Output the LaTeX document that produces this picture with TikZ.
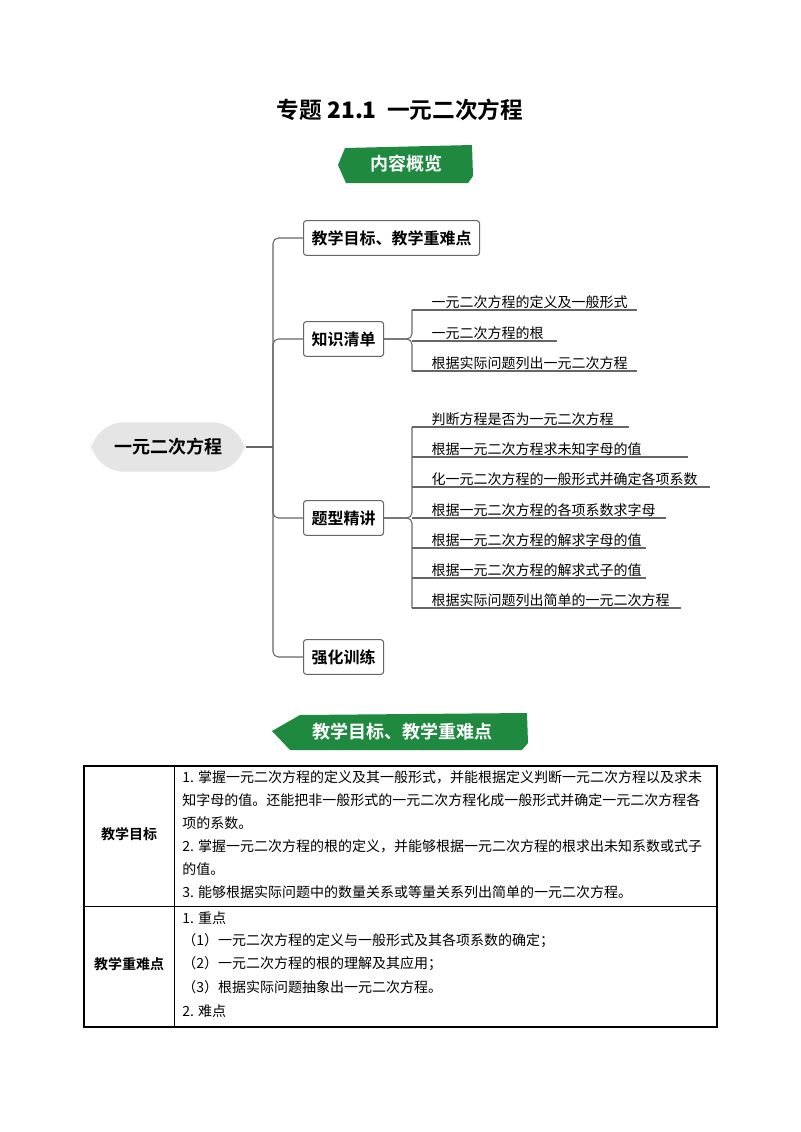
\documentclass[tikz,border=0pt]{standalone}
\usepackage{fontspec}
\setmainfont{Liberation Serif}
\newfontfamily\cjk{Noto Sans CJK SC}
\newfontfamily\cjkb{Noto Sans CJK SC Bold}
\usetikzlibrary{positioning}

\definecolor{bannergreen}{HTML}{1F8A3F}

\tikzset{
  banner/.style={fill=bannergreen, draw=none},
  topic/.style={draw=black!60, rounded corners=2pt, thick, fill=white, font=\cjkb\fontsize{12}{14}\selectfont, inner sep=6pt, minimum height=26pt},
  leaf/.style={anchor=south west, inner sep=1pt, font=\cjk\fontsize{10.5}{12}\selectfont},
  branch/.style={draw=black!60, thick, rounded corners=4pt},
  cell/.style={anchor=west, inner sep=0pt, font=\cjk\fontsize{10.5}{12}\selectfont},
}

\begin{document}
\begin{tikzpicture}[x=0.75pt,y=-0.75pt]
  \useasboundingbox (0,0) rectangle (800,1132);

  % title and first banner
  \node (title) at (400,110) {\cjkb\fontsize{17}{20}\selectfont 专题 \textbf{21.1}\ \ 一元二次方程};
  \fill[banner] (345,148) -- (472,145) -- (473,176) -- (468,183) -- (346,183) -- (338,165) -- cycle;
  \node[white] (ban1) at (406,164) {\cjkb\fontsize{13.5}{16}\selectfont 内容概览};

  % mind map
  \node[fill=black!10, rounded corners=25pt, minimum width=116pt, minimum height=37pt, font=\cjkb\fontsize{13.5}{16}\selectfont] (root) at (168,447) {一元二次方程};
  \node[topic, anchor=west] (goal) at (303,238) {教学目标、教学重难点};
  \node[topic, anchor=west] (know) at (303,339) {知识清单};
  \node[topic, anchor=west] (type) at (303,518) {题型精讲};
  \node[topic, anchor=west] (train) at (303,657) {强化训练};
  \coordinate (trunk) at (273,447);
  \draw[branch] (root.east) -- (trunk);
  \draw[branch] (goal.west) -| (trunk) |- (train.west);
  \draw[branch] (know.west) -| (trunk);
  \draw[branch] (type.west) -| (trunk);

  % knowledge list
  \foreach \y/\e/\t in {310/637/一元二次方程的定义及一般形式,
                         341/557/一元二次方程的根,
                         371/637/根据实际问题列出一元二次方程}{
    \draw[black!60, thick] (412,\y) -- (\e,\y);
    \node[leaf] at (430,\y) {\t};
  }
  \draw[branch] (412,310) |- (know.east);
  \draw[branch] (412,371) |- (know.east);

  % exercise types
  \foreach \y/\e/\t in {427/629/判断方程是否为一元二次方程,
                         457/688/根据一元二次方程求未知字母的值,
                         487/710/化一元二次方程的一般形式并确定各项系数,
                         518/666/根据一元二次方程的各项系数求字母,
                         548/646/根据一元二次方程的解求字母的值,
                         578/646/根据一元二次方程的解求式子的值,
                         608/681/根据实际问题列出简单的一元二次方程}{
    \draw[black!60, thick] (412,\y) -- (\e,\y);
    \node[leaf] at (430,\y) {\t};
  }
  \draw[branch] (412,427) |- (type.east);
  \draw[branch] (412,608) |- (type.east);

  % second banner
  \fill[banner] (272,731) -- (300,715) -- (527,713) -- (528,743) -- (522,750) -- (290,750) -- cycle;
  \node[white] (ban2) at (402,732) {\cjkb\fontsize{13.5}{16}\selectfont 教学目标、教学重难点};

  % table
  \draw[thick] (84,766) rectangle (717,1027);
  \draw (174,766) -- (174,1027);
  \draw (84,906) -- (717,906);
  \node[font=\cjkb\fontsize{10.5}{12}\selectfont] (lab1) at (129,834) {教学目标};
  \node[font=\cjkb\fontsize{10.5}{12}\selectfont] (lab2) at (129,964) {教学重难点};
  \foreach \y/\t in {777/1. 掌握一元二次方程的定义及其一般形式，并能根据定义判断一元二次方程以及求未,
                     800/知字母的值。还能把非一般形式的一元二次方程化成一般形式并确定一元二次方程各,
                     823/项的系数。,
                     846/2. 掌握一元二次方程的根的定义，并能够根据一元二次方程的根求出未知系数或式子,
                     869/的值。,
                     892/3. 能够根据实际问题中的数量关系或等量关系列出简单的一元二次方程。,
                     918/1. 重点,
                     941/（1）一元二次方程的定义与一般形式及其各项系数的确定；,
                     964/（2）一元二次方程的根的理解及其应用；,
                     987/（3）根据实际问题抽象出一元二次方程。,
                     1011/2. 难点}{
    \node[cell] at (182,\y) {\t};
  }
\end{tikzpicture}
\end{document}
